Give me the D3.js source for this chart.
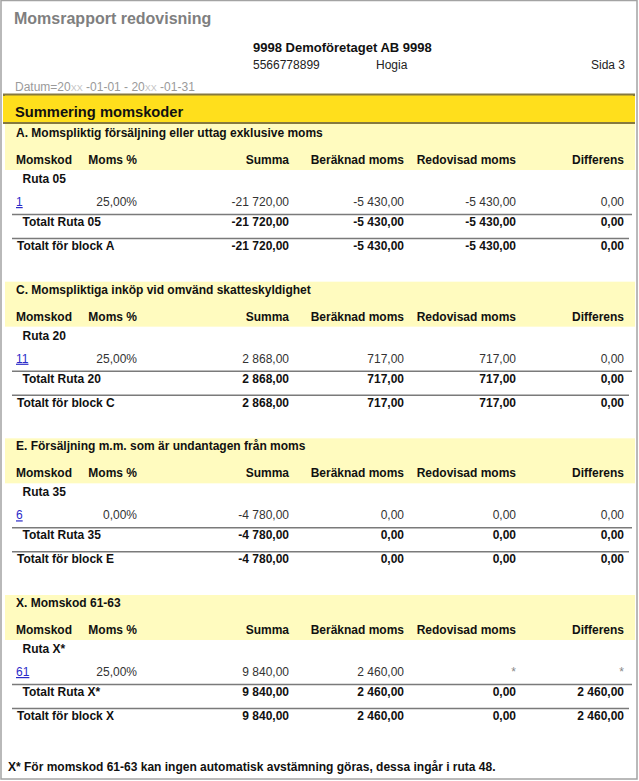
<!DOCTYPE html>
<html>
<head>
<meta charset="utf-8">
<script src="https://cdn.jsdelivr.net/npm/d3@7"></script>
<style>
  body { margin: 0; background: #fff; }
  svg { display: block; font-family: "Liberation Sans", Arial, sans-serif; }
</style>
</head>
<body>
<div class="report"></div>
<script>
// report data
const blockIds = ["A", "C", "E", "X"];
const blockTitles = [
    "A. Momspliktig försäljning eller uttag exklusive moms",
    "C. Momspliktiga inköp vid omvänd skatteskyldighet",
    "E. Försäljning m.m. som är undantagen från moms",
    "X. Momskod 61-63"
];
const rutor = ["05", "20", "35", "X*"];
const momskoder = ["1", "11", "6", "61"];
const momsSats = ["25,00%", "25,00%", "0,00%", "25,00%"];
const summa = [-21720, 2868, -4780, 9840];
const beraknadMoms = [-5430, 717, 0, 2460];
const redovisadMoms = [-5430, 717, 0, null];   // null = "*"
const differens = [0, 0, 0, null];
const totalRedovisad = [-5430, 717, 0, 0];
const totalDifferens = [0, 0, 0, 2460];
const columnLabels = ["Momskod", "Moms %", "Summa", "Beräknad moms", "Redovisad moms", "Differens"];

const width = 639, height = 781;

const svg = d3.select(".report").append("svg")
    .attr("width", width)
    .attr("height", height);

const sv = d3.formatLocale({decimal: ",", thousands: " ", grouping: [3], currency: ["", ""], minus: "-"});
const money = v => v === null ? "*" : sv.format(",.2f")(v);

// column anchors (Momskod is left aligned, the rest right aligned)
const colX = d3.scaleOrdinal().domain(columnLabels).range([16, 137, 289, 404, 516, 624]);
// baseline of each block heading
const blockY = d3.scaleLinear().domain([0, blockIds.length - 1]).range([137, 607]);

// outer frame
svg.append("rect")
    .attr("x", 1).attr("y", 0.5)
    .attr("width", 636).attr("height", 778.5)
    .attr("fill", "none")
    .attr("stroke", "#a3a3a3")
    .attr("stroke-width", 1.5);

// page header
svg.append("text")
    .attr("x", 14).attr("y", 24)
    .attr("font-size", 16).attr("font-weight", "bold")
    .attr("fill", "#7f7f7f")
    .text("Momsrapport redovisning");

svg.append("text")
    .attr("x", 253).attr("y", 52)
    .attr("font-size", 13).attr("font-weight", "bold")
    .attr("fill", "#111")
    .text("9998 Demoföretaget AB 9998");

svg.append("text").attr("x", 253).attr("y", 69).attr("font-size", 12).attr("fill", "#222").text("5566778899");
svg.append("text").attr("x", 376).attr("y", 69).attr("font-size", 12).attr("fill", "#222").text("Hogia");
svg.append("text").attr("x", 625).attr("y", 69).attr("font-size", 12).attr("fill", "#222")
    .attr("text-anchor", "end").text("Sida 3");

const datum = svg.append("text")
    .attr("x", 15).attr("y", 91)
    .attr("font-size", 12).attr("fill", "#9a9a9a");
datum.append("tspan").text("Datum=20");
datum.append("tspan").attr("font-size", 9).attr("fill", "#c4c4c4").text("XX");
datum.append("tspan").text(" -01-01 - 20");
datum.append("tspan").attr("font-size", 9).attr("fill", "#c4c4c4").text("XX");
datum.append("tspan").text(" -01-31");

// yellow title bar
svg.append("rect")
    .attr("x", 4).attr("y", 94.5)
    .attr("width", 630).attr("height", 28.5)
    .attr("fill", "#ffdf1c")
    .attr("stroke", "#85793f")
    .attr("stroke-width", 2);
svg.append("rect")  // cover side strokes
    .attr("x", 3).attr("y", 96).attr("width", 632).attr("height", 26)
    .attr("fill", "#ffdf1c");
svg.append("text")
    .attr("x", 15).attr("y", 117)
    .attr("font-size", 14.7).attr("font-weight", "bold")
    .attr("fill", "#111")
    .text("Summering momskoder");

// blocks
const blocks = svg.selectAll(".block")
    .data(blockIds)
    .enter()
    .append("g")
    .attr("class", "block")
    .attr("transform", (d, i) => "translate(0," + blockY(i) + ")");

blocks.append("rect")
    .attr("x", 5)
    .attr("y", (d, i) => i === 0 ? -13 : -12)
    .attr("width", 630)
    .attr("height", (d, i) => i === 0 ? 46 : 45)
    .attr("fill", "#fffbbf");

blocks.append("text")
    .attr("x", 16).attr("y", 0)
    .attr("font-size", 12).attr("font-weight", "bold")
    .attr("fill", "#111")
    .text((d, i) => blockTitles[i]);

// column headers
columnLabels.forEach((c, ci) => {
    blocks.append("text")
        .attr("x", colX(c)).attr("y", 27)
        .attr("text-anchor", ci === 0 ? "start" : "end")
        .attr("font-size", 12).attr("font-weight", "bold")
        .attr("fill", "#111")
        .text(c);
});

blocks.append("text")
    .attr("x", 22.5).attr("y", 46)
    .attr("font-size", 12).attr("font-weight", "bold")
    .attr("fill", "#111")
    .text((d, i) => "Ruta " + rutor[i]);

// detail row
blocks.append("text")
    .attr("x", colX("Momskod")).attr("y", 69)
    .attr("font-size", 12)
    .attr("fill", "#2b2bc8")
    .attr("text-decoration", "underline")
    .text((d, i) => momskoder[i]);

const detailCols = [
    ["Moms %", i => momsSats[i]],
    ["Summa", i => money(summa[i])],
    ["Beräknad moms", i => money(beraknadMoms[i])],
    ["Redovisad moms", i => money(redovisadMoms[i])],
    ["Differens", i => money(differens[i])]
];
detailCols.forEach(([c, fn]) => {
    blocks.append("text")
        .attr("x", colX(c)).attr("y", 69)
        .attr("text-anchor", "end")
        .attr("font-size", 12)
        .attr("fill", (d, i) => fn(i) === "*" ? "#888" : "#333")
        .text((d, i) => fn(i));
});

// separator lines
blocks.append("line")
    .attr("x1", 12).attr("x2", 632)
    .attr("y1", 77.5).attr("y2", 77.5)
    .attr("stroke", "#7a7a7a").attr("stroke-width", 1.5);
blocks.append("line")
    .attr("x1", 12).attr("x2", 629)
    .attr("y1", 101.5).attr("y2", 101.5)
    .attr("stroke", "#7a7a7a").attr("stroke-width", 1.5);

// total rows
const totalCols = [
    ["Summa", i => money(summa[i])],
    ["Beräknad moms", i => money(beraknadMoms[i])],
    ["Redovisad moms", i => money(totalRedovisad[i])],
    ["Differens", i => money(totalDifferens[i])]
];
[[89, 22.5, i => "Totalt Ruta " + rutor[i]], [113, 17, i => "Totalt för block " + blockIds[i]]]
    .forEach(([y, lx, label]) => {
        blocks.append("text")
            .attr("x", lx).attr("y", y)
            .attr("font-size", 12).attr("font-weight", "bold")
            .attr("fill", "#111")
            .text((d, i) => label(i));
        totalCols.forEach(([c, fn]) => {
            blocks.append("text")
                .attr("x", colX(c)).attr("y", y)
                .attr("text-anchor", "end")
                .attr("font-size", 12).attr("font-weight", "bold")
                .attr("fill", "#111")
                .text((d, i) => fn(i));
        });
    });

// footnote
svg.append("text")
    .attr("x", 8).attr("y", 771)
    .attr("font-size", 12).attr("font-weight", "bold")
    .attr("fill", "#111")
    .text("X* För momskod 61-63 kan ingen automatisk avstämning göras, dessa ingår i ruta 48.");
</script>
</body>
</html>
